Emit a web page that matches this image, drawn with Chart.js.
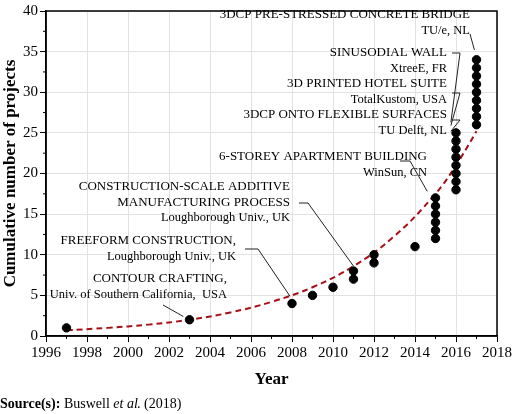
<!DOCTYPE html><html><head><meta charset="utf-8">
<script src="https://cdn.jsdelivr.net/npm/chart.js@4/dist/chart.umd.min.js"></script>
<style>body{margin:0;background:#fff}</style></head><body>
<canvas id="c" width="520" height="414"></canvas>
<script>
const years = [1997,2003,2008,2009,2010,2011,2011,2012,2012,2014,2015,2015,2015,2015,2015,2015,2016,2016,2016,2016,2016,2016,2016,2016,2017,2017,2017,2017,2017,2017,2017,2017,2017];
const counts = [1,2,4,5,6,7,8,9,10,11,12,13,14,15,16,17,18,19,20,21,22,23,24,25,26,27,28,29,30,31,32,33,34];
const trendYears = [1997,1999,2001,2003,2005,2007,2009,2011,2013,2015,2016,2017];
const trendValues = [0.7,1.0,1.4,2.0,2.9,4.2,6.0,8.6,12.3,17.5,21.0,25.2];
const yTicks = [0,5,10,15,20,25,30,35,40];
const xTicks = [1996,1998,2000,2002,2004,2006,2008,2010,2012,2014,2016,2018];
const notes = [
 {lines:["3DCP PRE-STRESSED CONCRETE BRIDGE","TU/e, NL"], x:470, y:15, path:[[470,34],[2016.9,35.2]]},
 {lines:["SINUSODIAL WALL","XtreeE, FR"], x:447, y:53, path:[[452,53],[460,53],[2015.75,26.3]]},
 {lines:["3D PRINTED HOTEL SUITE","TotalKustom, USA"], x:447, y:84, path:[[452,93],[460,93],[2015.75,25.9]]},
 {lines:["3DCP ONTO FLEXIBLE SURFACES","TU Delft, NL"], x:447, y:115, path:[[452,120],[460,120],[2015.75,25.2]]},
 {lines:["6-STOREY APARTMENT BUILDING","WinSun, CN"], x:427, y:157, path:[[400,161],[410,161],[2014.6,17.8]]},
 {lines:["CONSTRUCTION-SCALE ADDITIVE","MANUFACTURING PROCESS","Loughborough Univ., UK"], x:290, y:187, path:[[299,203],[308,203],[2011,8.6]]},
 {lines:["FREEFORM CONSTRUCTION,","Loughborough Univ., UK"], x:236, y:241, path:[[245,249],[258,249],[2007.9,4.9]]},
 {lines:["CONTOUR CRAFTING,","Univ. of Southern California,  USA"], x:227, y:279, path:[[163,305],[2002.7,2.4]]}
];
const SERIF = "'Liberation Serif','Times New Roman',serif";
const deco = {id:'deco', afterDraw(ch){
 const c=ch.ctx, a=ch.chartArea, xs=ch.scales.x, ys=ch.scales.y;
 c.save();
 c.strokeStyle='#000'; c.lineWidth=1.5; c.strokeRect(a.left,a.top,a.right-a.left,a.bottom-a.top);
 c.lineWidth=1;
 for(let v=1997;v<2018;v+=2){const px=xs.getPixelForValue(v);c.beginPath();c.moveTo(px,a.bottom);c.lineTo(px,a.bottom+3);c.stroke();}
 for(let v=2.5;v<40;v+=5){const py=ys.getPixelForValue(v);c.beginPath();c.moveTo(a.left,py);c.lineTo(a.left-3,py);c.stroke();}
 c.fillStyle='#000'; c.textAlign='right'; c.textBaseline='middle';
 notes.forEach(n=>{
  n.lines.forEach((t,i)=>{c.font=(i==n.lines.length-1&&n.lines.length>1?'12.5px ':'13px ')+SERIF;c.fillText(t,n.x,n.y+i*15.5);});
  c.beginPath(); c.strokeStyle='#222'; c.lineWidth=1;
  n.path.forEach((p,i)=>{let px=p[0],py=p[1];if(p[0]>1900){px=xs.getPixelForValue(p[0]);py=ys.getPixelForValue(p[1]);}
   i?c.lineTo(px,py):c.moveTo(px,py);});
  c.stroke();
 });
 c.textAlign='left'; c.font='bold 14px '+SERIF; c.fillText('Source(s):',0,404);
 const w=c.measureText('Source(s): ').width; c.font='14px '+SERIF; c.fillText('Buswell ',w,404);
 const w2=w+c.measureText('Buswell ').width; c.font='italic 14px '+SERIF; c.fillText('et al',w2,404);
 c.font='14px '+SERIF; c.fillText('. (2018)',w2+c.measureText('et al').width,404);
 c.restore();
}};
new Chart(document.getElementById('c'),{
 data:{datasets:[
  {type:'scatter',data:years.map((x,i)=>({x,y:counts[i]})),backgroundColor:'#000',borderColor:'#000',pointRadius:4.2,order:1},
  {type:'line',data:trendYears.map((x,i)=>({x,y:trendValues[i]})),borderColor:'#a50f15',borderWidth:2,borderDash:[6,4],pointRadius:0,tension:0.4,fill:false,order:2}
 ]},
 options:{responsive:false,animation:false,devicePixelRatio:1,
  layout:{padding:{top:5,right:23,bottom:20,left:0}},
  plugins:{legend:{display:false},tooltip:{enabled:false}},
  scales:{
   x:{type:'linear',min:1996,max:2018,afterBuildTicks:s=>{s.ticks=xTicks.map(v=>({value:v}));},
      afterFit:s=>{s.height=58},
      grid:{color:'#e2e2e2',tickColor:'#000',tickLength:6},border:{color:'#000',width:1.5},
      ticks:{color:'#000',font:{family:SERIF,size:15},maxRotation:0,padding:2,callback:v=>String(v)},
      title:{display:true,text:'Year',color:'#000',font:{family:SERIF,size:17,weight:'bold'},padding:{top:4}}},
   y:{min:0,max:40,afterBuildTicks:s=>{s.ticks=yTicks.map(v=>({value:v}));},
      afterFit:s=>{s.width=46},
      grid:{color:'#e2e2e2',tickColor:'#000',tickLength:6},border:{color:'#000',width:1.5},
      ticks:{color:'#000',font:{family:SERIF,size:15},padding:2,callback:v=>String(v)},
      title:{display:true,text:'Cumulative number of projects',color:'#000',font:{family:SERIF,size:17,weight:'bold'},padding:0}}
  }},
 plugins:[deco]});
</script></body></html>
